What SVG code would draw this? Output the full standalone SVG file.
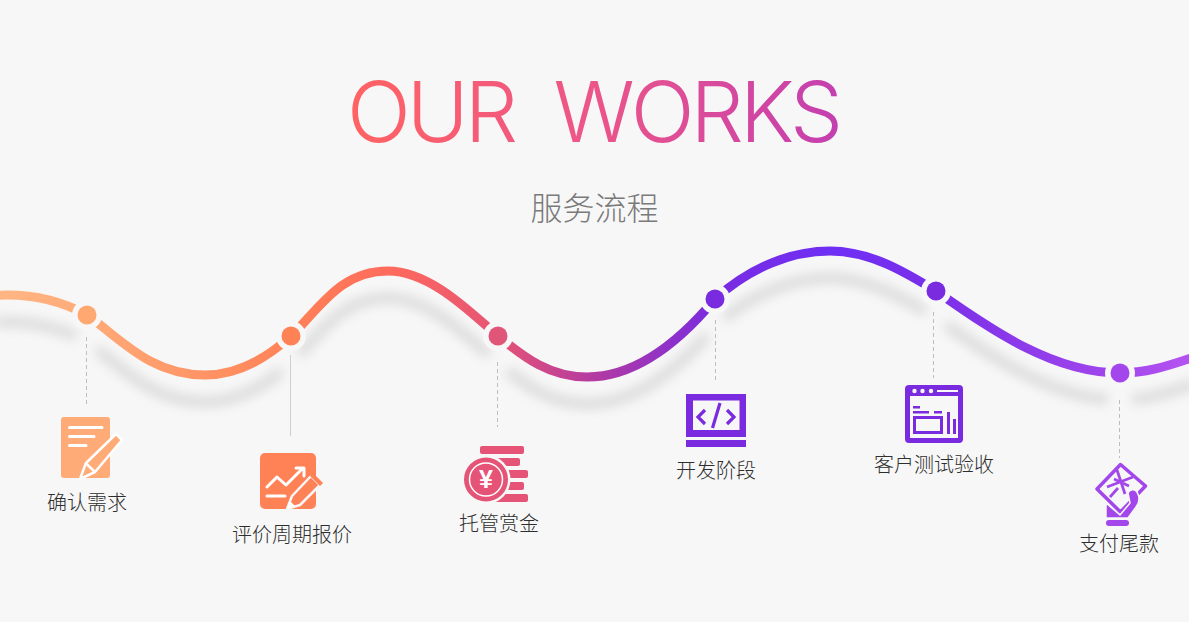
<svg xmlns="http://www.w3.org/2000/svg" width="1189" height="622" viewBox="0 0 1189 622">
<style>
.lb{font-family:"Noto Sans CJK SC","Noto Sans",sans-serif;font-size:20px;font-weight:300;fill:#2e2e2e;text-anchor:middle}
.dash{stroke:#bdbdbd;stroke-width:1;stroke-dasharray:4 3;fill:none}
.w{stroke:#fff;fill:none;stroke-linecap:round;stroke-linejoin:round}
.gap{fill:#f7f7f7}
</style>
<defs>
<linearGradient id="cg" gradientUnits="userSpaceOnUse" x1="0" y1="0" x2="1189" y2="0">
<stop offset="0" stop-color="#ffb684"/><stop offset=".073" stop-color="#ffab78"/><stop offset=".245" stop-color="#ff8257"/><stop offset=".326" stop-color="#ff6b5c"/><stop offset=".42" stop-color="#e55376"/><stop offset=".495" stop-color="#b63c9e"/><stop offset=".6" stop-color="#7a2be0"/><stop offset=".7" stop-color="#6f2ff5"/><stop offset=".787" stop-color="#7a2fe8"/><stop offset=".94" stop-color="#a347ec"/><stop offset="1" stop-color="#b552f2"/>
</linearGradient>
<linearGradient id="tg" gradientUnits="userSpaceOnUse" x1="351" y1="0" x2="838" y2="0">
<stop offset="0" stop-color="#ff6363"/><stop offset=".5" stop-color="#ec5589"/><stop offset="1" stop-color="#c43fb0"/>
</linearGradient>
<filter id="bl" x="-5%" y="-40%" width="110%" height="180%"><feGaussianBlur stdDeviation="6"/></filter>
<path id="wave" d="M-5 295.500C35 293 65 303 87 315C120 338 150 375 205 375C240 375 268 357 291 336C320 308 340 271 388 271C430 271 470 312 498 336C525 358 550 377 587 377C640 377 685 335 715 299C750 268 790 251 830 251C870 251 905 272 936 291C985 325 1050 373 1120 373C1145 373 1165 367 1194 357"/>
</defs>
<rect width="1189" height="622" fill="#f7f7f7"/>
<text id="title" x="593" y="142" text-anchor="middle" font-family="Inter,'Liberation Sans',sans-serif" font-weight="300" font-size="84" letter-spacing="-3.900" fill="url(#tg)" xml:space="preserve">OUR  WORKS</text>
<text id="subtitle" x="594.500" y="220" text-anchor="middle" font-family="'Noto Sans CJK SC',sans-serif" font-weight="300" font-size="32" fill="#7a7a7a">服务流程</text>

<g id="connectors">
<g filter="url(#bl)"><use href="#wave" y="27" fill="none" stroke="#d9d9d9" stroke-width="10"/>
<g fill="#f7f7f7"><circle cx="87" cy="342" r="12"/><circle cx="291" cy="363" r="12"/><circle cx="498" cy="363" r="12"/><circle cx="715" cy="326" r="12"/><circle cx="936" cy="318" r="12"/><circle cx="1120" cy="400" r="12"/></g></g>
<use href="#wave" fill="none" stroke="url(#cg)" stroke-width="9"/>
<path class="dash" d="M86.500 337V405"/>
<path class="dash" style="stroke-dasharray:none;stroke:#cfcfcf" d="M290.500 355V436"/>
<path class="dash" d="M497.500 362V427"/>
<path class="dash" d="M715.500 320V383"/>
<path class="dash" d="M933.500 312V378"/>
<path class="dash" d="M1119.500 400V458"/>
</g>

<g id="node1">
<circle class="gap" cx="87" cy="315" r="15"/><circle cx="87" cy="315" r="9.500" fill="#ffa872"/>
<rect x="61" y="417" width="49" height="61" rx="3" fill="#ffab78"/>
<path class="w" stroke-width="3" d="M69.500 427.500H102M69.500 436.500H94M69.500 445.500H86"/>
<path d="M80 479L86 463L116 434L122 440L95 472Z" fill="#ffab78" stroke="#fff" stroke-width="2.500" stroke-linejoin="round"/>
<path d="M85.500 463L95 472" stroke="#fff" stroke-width="2.500"/>
<text class="lb" x="87" y="510">确认需求</text>
</g>
<g id="node2">
<circle class="gap" cx="291" cy="336" r="15"/><circle cx="291" cy="336" r="9.500" fill="#ff8257"/>
<rect x="260" y="453" width="56" height="56" rx="5" fill="#ff8257"/>
<path class="w" stroke-width="3" d="M267 487L277 477L286 485L301 470M296 468H304V476M267 496H285"/>
<path d="M287 509L292 496L311 476L320 485L300 505Z" fill="#ff8257" stroke="#f7f7f7" stroke-width="2.500" stroke-linejoin="round"/>
<path d="M311 473L314 474L323 483L320 486L310 476Z" fill="#ff8257"/>
<path d="M287 509L290 501L295 506Z" fill="#fff"/>
<text class="lb" x="292" y="542">评价周期报价</text>
</g>
<g id="node3">
<circle class="gap" cx="498" cy="336" r="15"/><circle cx="498" cy="336" r="9.500" fill="#e05678"/>
<g fill="#e55376"><rect x="480" y="446" width="44" height="8" rx="2"/><rect x="490" y="458" width="30" height="8" rx="2"/><rect x="500" y="470" width="28" height="8" rx="2"/><rect x="500" y="482" width="24" height="8" rx="2"/><rect x="490" y="494" width="38" height="8" rx="2"/></g>
<circle cx="486" cy="479.500" r="24.500" fill="#f7f7f7"/>
<circle cx="486" cy="479.500" r="22" fill="#e55376"/>
<circle cx="486" cy="479.500" r="16.500" fill="none" stroke="#fff" stroke-width="1.500"/>
<text x="486" y="488" text-anchor="middle" font-family="'Liberation Sans',sans-serif" font-weight="700" font-size="25" fill="#fff">¥</text>
<text class="lb" x="499" y="531">托管赏金</text>
</g>
<g id="node4">
<circle class="gap" cx="715" cy="299" r="15"/><circle cx="715" cy="299" r="9.500" fill="#7a2be0"/>
<path fill-rule="evenodd" fill="#7a2be0" d="M686 394H746V437H686ZM693 400.500V430H739.500V400.500Z"/>
<rect x="686" y="440" width="60" height="7" fill="#7a2be0"/>
<path d="M705 410L698 417L705 424M727 410L734 417L727 424M720 403L712.500 428" fill="none" stroke="#7a2be0" stroke-width="3.200"/>
<text class="lb" x="716" y="478">开发阶段</text>
</g>
<g id="node5">
<circle class="gap" cx="936" cy="291" r="15"/><circle cx="936" cy="291" r="9.500" fill="#7a2be0"/>
<path fill-rule="evenodd" fill="#7a2be0" d="M909 385H959A4 4 0 0 1 963 389V439A4 4 0 0 1 959 443H909A4 4 0 0 1 905 439V389A4 4 0 0 1 909 385ZM910 396V438H958V396Z"/>
<g fill="#f7f7f7"><circle cx="914.500" cy="391" r="2.200"/><circle cx="922.500" cy="391" r="2.200"/><circle cx="931" cy="391" r="2.200"/><rect x="937" y="390" width="21" height="2"/></g>
<g fill="#7a2be0"><rect x="913" y="406" width="7" height="2.500"/><rect x="913" y="411" width="16" height="2.500"/><rect x="934" y="411" width="8" height="2.500"/><rect x="947" y="412" width="3" height="22"/><rect x="953" y="419" width="3" height="15"/></g>
<rect x="914.500" y="417.500" width="27" height="15" fill="none" stroke="#7a2be0" stroke-width="3"/>
<text class="lb" x="934" y="472">客户测试验收</text>
</g>
<g id="node6">
<circle class="gap" cx="1120" cy="373" r="15"/><circle cx="1120" cy="373" r="9.500" fill="#a347ec"/>
<path d="M1120.500 464.500L1145.500 486L1120.500 512L1097 489Z" fill="none" stroke="#a347ec" stroke-width="3.500" stroke-linejoin="round"/>
<path d="M1107 487L1133 477M1117 470L1125 494M1114 479L1129 486M1118 488L1110 497" fill="none" stroke="#a347ec" stroke-width="2.800"/>
<path d="M1106 503L1120 515L1130 503L1128 493C1130 489 1135 489 1137 492C1140 497 1139 503 1136 507L1128 518H1106Z" fill="#a347ec" stroke="#f7f7f7" stroke-width="1.500"/>
<rect x="1106" y="520" width="23" height="6" rx="3" fill="#a347ec"/>
<text class="lb" x="1119" y="551">支付尾款</text>
</g>
</svg>
